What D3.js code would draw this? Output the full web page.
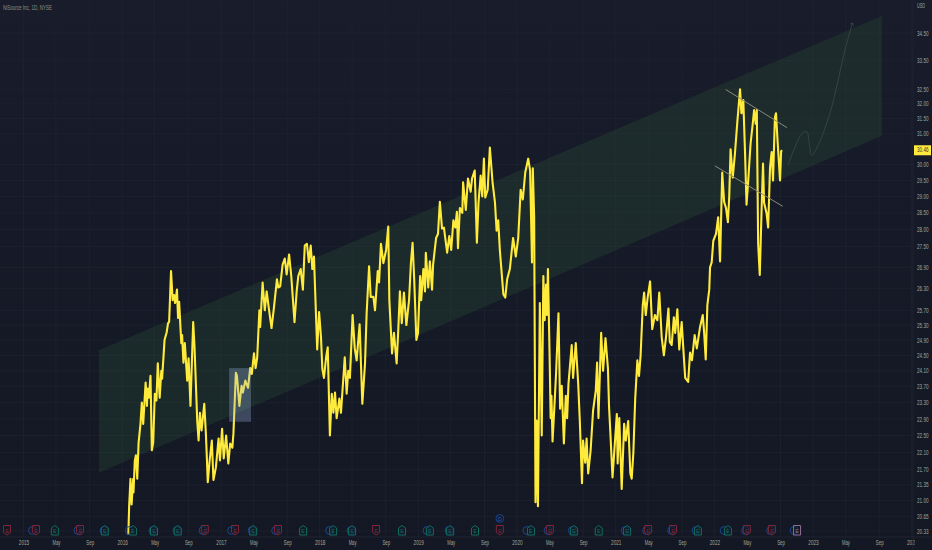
<!DOCTYPE html>
<html><head><meta charset="utf-8">
<script src="https://cdn.jsdelivr.net/npm/d3@7/dist/d3.min.js"></script>
<style>html,body{margin:0;padding:0;background:#131722;overflow:hidden}svg{display:block}text{font-family:"Liberation Sans",Roboto,sans-serif}</style>
</head><body><svg id="c" width="932" height="550"></svg>
<script>
const titleText = "NiSource Inc, 1D, NYSE";
const currencyText = "USD";
const lastPrice = 30.46;
const priceTicks = [34.5,33.5,32.5,32,31.5,31,30,29.5,29,28.5,28,27.5,26.9,26.3,25.7,25.3,24.9,24.5,24.1,23.7,23.3,22.9,22.5,22.1,21.7,21.35,21,20.65,20.33];
const timeTickLabels = ["2015","May","Sep","2016","May","Sep","2017","May","Sep","2018","May","Sep","2019","May","Sep","2020","May","Sep","2021","May","Sep","2022","May","Sep","2023","May","Sep","2024"];
const timeTicks = [2015,2015.33,2015.67,2016,2016.33,2016.67,2017,2017.33,2017.67,2018,2018.33,2018.67,2019,2019.33,2019.67,2020,2020.33,2020.67,2021,2021.33,2021.67,2022,2022.33,2022.67,2023,2023.33,2023.67,2024];

const priceDates = [2016.064,2016.072,2016.086,2016.096,2016.112,2016.116,2016.130,2016.140,2016.153,2016.167,2016.187,2016.201,2016.214,2016.238,2016.251,2016.258,2016.272,2016.289,2016.302,2016.315,2016.332,2016.349,2016.363,2016.380,2016.396,2016.406,2016.431,2016.451,2016.467,2016.477,2016.497,2016.511,2016.525,2016.538,2016.555,2016.568,2016.578,2016.599,2016.609,2016.623,2016.636,2016.660,2016.674,2016.694,2016.720,2016.734,2016.761,2016.775,2016.788,2016.805,2016.832,2016.849,2016.859,2016.869,2016.887,2016.910,2016.927,2016.951,2016.978,2016.991,2017.011,2017.028,2017.052,2017.075,2017.092,2017.116,2017.126,2017.150,2017.163,2017.186,2017.207,2017.221,2017.247,2017.275,2017.295,2017.312,2017.335,2017.352,2017.368,2017.389,2017.396,2017.423,2017.444,2017.464,2017.484,2017.511,2017.538,2017.566,2017.582,2017.599,2017.626,2017.646,2017.667,2017.690,2017.713,2017.744,2017.768,2017.784,2017.809,2017.829,2017.849,2017.870,2017.890,2017.910,2017.926,2017.943,2017.974,2017.994,2018.014,2018.028,2018.045,2018.065,2018.082,2018.105,2018.123,2018.139,2018.156,2018.173,2018.200,2018.217,2018.254,2018.275,2018.291,2018.308,2018.318,2018.335,2018.356,2018.376,2018.406,2018.433,2018.460,2018.477,2018.501,2018.518,2018.544,2018.562,2018.589,2018.602,2018.622,2018.646,2018.673,2018.696,2018.706,2018.733,2018.754,2018.781,2018.797,2018.815,2018.832,2018.855,2018.879,2018.906,2018.926,2018.943,2018.960,2018.980,2018.997,2019.018,2019.031,2019.051,2019.068,2019.078,2019.102,2019.119,2019.139,2019.152,2019.180,2019.200,2019.220,2019.240,2019.261,2019.294,2019.314,2019.335,2019.355,2019.375,2019.392,2019.402,2019.423,2019.446,2019.456,2019.483,2019.504,2019.531,2019.544,2019.572,2019.595,2019.612,2019.632,2019.648,2019.665,2019.679,2019.703,2019.726,2019.754,2019.777,2019.795,2019.811,2019.828,2019.862,2019.882,2019.902,2019.930,2019.963,2019.990,2020.014,2020.038,2020.059,2020.085,2020.116,2020.133,2020.153,2020.163,2020.176,2020.190,2020.200,2020.214,2020.234,2020.251,2020.268,2020.282,2020.295,2020.305,2020.315,2020.332,2020.342,2020.352,2020.362,2020.380,2020.396,2020.423,2020.437,2020.454,2020.477,2020.497,2020.510,2020.524,2020.555,2020.571,2020.598,2020.622,2020.639,2020.659,2020.672,2020.692,2020.707,2020.723,2020.747,2020.773,2020.801,2020.814,2020.828,2020.855,2020.875,2020.899,2020.922,2020.935,2020.949,2020.970,2021.010,2021.020,2021.036,2021.061,2021.084,2021.101,2021.127,2021.148,2021.162,2021.178,2021.196,2021.219,2021.236,2021.253,2021.273,2021.287,2021.304,2021.324,2021.347,2021.371,2021.398,2021.421,2021.441,2021.466,2021.489,2021.509,2021.533,2021.547,2021.567,2021.590,2021.604,2021.624,2021.644,2021.669,2021.685,2021.705,2021.733,2021.753,2021.773,2021.801,2021.821,2021.855,2021.882,2021.895,2021.913,2021.929,2021.949,2021.956,2021.973,2021.989,2022.016,2022.037,2022.057,2022.080,2022.100,2022.118,2022.138,2022.151,2022.165,2022.186,2022.209,2022.232,2022.259,2022.273,2022.293,2022.310,2022.327,2022.344,2022.368,2022.388,2022.404,2022.418,2022.429,2022.445,2022.459,2022.479,2022.492,2022.503,2022.530,2022.544,2022.564,2022.581,2022.595,2022.615,2022.625,2022.642,2022.665,2022.678,2022.688];
const priceCloses = [20.25,20.87,21.49,20.91,21.49,21.18,21.91,22.03,21.49,22.33,22.78,23.30,22.78,23.80,23.22,23.65,23.42,23.97,22.15,22.33,23.52,23.35,24.29,23.42,24.10,23.90,24.90,25.11,25.35,25.38,26.79,25.98,26.12,25.90,26.27,25.49,25.93,24.82,25.03,24.31,24.82,23.85,24.42,23.22,25.38,24.71,22.85,22.38,23.05,22.62,23.27,22.55,21.91,21.41,21.91,22.38,21.46,21.75,22.43,21.91,22.66,21.96,22.50,21.84,22.31,22.21,22.55,24.05,23.97,23.22,23.72,23.55,23.85,23.67,24.17,24.02,24.55,24.17,24.45,25.70,25.25,26.47,25.70,26.22,25.75,25.22,25.78,26.56,26.33,26.36,26.98,27.15,26.70,27.27,26.65,25.38,26.22,26.65,26.85,26.27,27.53,27.58,27.05,27.53,26.85,27.21,24.65,25.65,24.98,24.15,23.92,24.45,24.71,22.50,23.52,23.05,23.55,22.92,23.40,23.05,24.45,23.52,24.10,23.92,24.55,25.57,24.68,24.37,25.32,23.27,24.29,25.62,26.93,26.07,26.07,25.70,26.79,26.47,27.58,27.02,27.40,28.09,25.98,24.55,25.09,24.29,25.16,26.22,25.35,26.19,25.30,25.98,27.04,27.61,26.56,24.90,25.09,26.65,25.98,26.85,26.22,27.32,26.33,27.07,26.27,26.98,27.75,27.87,28.84,28.03,28.06,27.32,27.81,27.40,28.28,28.06,28.53,27.45,28.65,28.50,29.44,28.59,29.56,29.15,29.56,29.81,27.61,28.81,29.65,29.00,30.19,28.97,29.21,30.55,29.44,28.81,27.97,28.28,27.40,26.14,26.05,26.56,26.85,27.75,27.21,27.75,29.21,28.91,29.75,30.19,29.81,27.04,29.88,28.37,20.96,22.86,20.87,25.90,22.50,26.65,25.43,26.41,25.57,26.85,24.55,22.92,23.47,22.36,23.22,24.02,25.62,23.15,23.72,22.31,23.47,22.92,23.77,24.77,23.92,24.82,23.77,22.85,21.39,22.38,21.86,22.43,21.61,22.15,23.10,23.60,24.31,22.92,25.09,24.10,24.95,24.17,23.22,22.57,21.52,23.02,21.84,22.92,21.26,22.78,22.38,22.85,21.61,21.49,22.08,23.40,24.37,23.97,24.50,25.84,26.19,25.57,26.05,26.50,25.19,25.57,25.43,26.19,24.98,24.50,24.98,25.75,24.85,24.77,25.51,25.09,25.73,24.65,25.38,24.68,23.92,23.82,24.57,24.37,25.03,24.68,25.25,25.57,25.11,24.39,25.84,26.27,26.90,27.04,27.67,27.87,28.37,27.07,29.75,28.84,28.65,28.22,29.00,30.49,29.59,30.34,31.40,32.50,31.68,32.13,30.52,28.75,29.59,30.68,31.33,31.79,31.33,31.79,27.58,26.68,28.68,30.03,28.81,28.50,28.06,29.91,30.40,29.50,31.53,31.68,30.75,29.50,30.43,30.46];

const channelDates = [2015.765,2023.699,2023.699,2015.765];
const channelPrices = [24.63,35.13,30.93,21.63];
const boxDates = [2017.082,2017.305];
const boxPrices = [24.17,22.83];
const upperTrendDates = [2022.115,2022.736];
const upperTrendPrices = [32.49,31.20];
const lowerTrendDates = [2022.006,2022.692];
const lowerTrendPrices = [29.96,28.70];
const forecastDates = [2022.749,2022.834,2022.888,2022.936,2022.962,2022.986,2023.053,2023.172,2023.256,2023.324,2023.400];
const forecastPrices = [29.99,30.68,31.00,31.07,30.70,30.30,30.62,31.69,32.81,33.88,34.87];

const earningDates = [2014.833,2015.127,2015.319,2015.572,2015.826,2016.109,2016.322,2016.565,2016.839,2017.143,2017.325,2017.579,2017.832,2018.136,2018.329,2018.572,2018.835,2019.119,2019.322,2019.575,2019.828,2020.142,2020.335,2020.578,2020.831,2021.115,2021.328,2021.581,2021.834,2022.138,2022.330,2022.584,2022.837];
const earningKinds = ["m","m","b","m","b","b","b","b","m","m","b","m","b","b","b","m","b","b","b","b","m","b","m","b","b","b","m","m","b","b","m","m","u"];
const dividendDates = [2015.090,2015.552,2015.816,2016.072,2016.312,2016.555,2016.819,2017.108,2017.315,2017.554,2018.101,2018.319,2019.089,2019.312,2020.102,2020.315,2020.563,2021.095,2021.313,2021.566,2021.814,2022.098,2022.315,2022.569,2022.807];
const specialDividend = [2019.828];

const svg = d3.select("#c");
const W = 932, H = 550, axisX = 913, axisY = 537;
const toDate = t => { const y = Math.floor(t); return new Date(y, 0, 1 + Math.round((t - y) * 365)); };
const x = d3.scaleTime().domain([new Date(2015,0,1), new Date(2023,0,1)]).range([23.5, 813]);
const y = d3.scaleLog().domain([20.33, 34.5]).range([531, 33]);
const X = t => x(toDate(t));

const defs = svg.append("defs");
const g0 = defs.append("linearGradient").attr("id","bg").attr("x1",0).attr("y1",0).attr("x2",0).attr("y2",1);
g0.append("stop").attr("offset",0).attr("stop-color","#181c2b");
g0.append("stop").attr("offset",1).attr("stop-color","#131824");
defs.append("clipPath").attr("id","xclip").append("rect").attr("x",0).attr("y",axisY).attr("width",915).attr("height",H-axisY);

svg.append("rect").attr("width",W).attr("height",H).attr("fill","url(#bg)");

// grid
const gridColor = "#1f2431";
svg.append("g").selectAll("line").data(priceTicks).join("line")
  .attr("x1",0).attr("x2",axisX).attr("y1",d=>y(d)).attr("y2",d=>y(d)).attr("stroke",gridColor).attr("stroke-width",0.7);
svg.append("g").selectAll("line").data(timeTicks).join("line")
  .attr("x1",d=>X(d)).attr("x2",d=>X(d)).attr("y1",0).attr("y2",axisY).attr("stroke",gridColor).attr("stroke-width",0.7);

// channel
svg.append("path").attr("d", d3.line().x(d=>X(d[0])).y(d=>y(d[1])).curve(d3.curveLinearClosed)(d3.zip(channelDates,channelPrices)))
  .attr("fill","#2f5a35").attr("fill-opacity",0.26);

// price line
svg.append("path").attr("d", d3.line().x(d=>X(d[0])).y(d=>y(d[1]))(d3.zip(priceDates,priceCloses)))
  .attr("fill","none").attr("stroke","#ffeb3b").attr("stroke-width",2.1).attr("stroke-linejoin","round");

// highlighted box
svg.append("rect").attr("x",X(boxDates[0])).attr("width",X(boxDates[1])-X(boxDates[0]))
  .attr("y",y(boxPrices[0])).attr("height",y(boxPrices[1])-y(boxPrices[0]))
  .attr("fill","#9fb6e0").attr("fill-opacity",0.3);

// trend lines
[[upperTrendDates,upperTrendPrices],[lowerTrendDates,lowerTrendPrices]].forEach(([a,b])=>{
  svg.append("line").attr("x1",X(a[0])).attr("x2",X(a[1])).attr("y1",y(b[0])).attr("y2",y(b[1]))
    .attr("stroke","#8b8b7a").attr("stroke-width",1);
});

// forecast path
const fp = d3.zip(forecastDates,forecastPrices);
svg.append("path").attr("d", d3.line().x(d=>X(d[0])).y(d=>y(d[1])).curve(d3.curveCatmullRom)(fp))
  .attr("fill","none").attr("stroke","#334a42").attr("stroke-width",0.9);
const tip = fp[fp.length-1];
svg.append("path").attr("d", d3.line()([[X(tip[0])-2.5,y(tip[1])+1.2],[X(tip[0]),y(tip[1])],[X(tip[0])+1.2,y(tip[1])+2.6]]))
  .attr("fill","none").attr("stroke","#334a42").attr("stroke-width",0.9);

// events
const evTop = 525.5, evBot = 535;
const evG = svg.append("g");
evG.selectAll("circle.d").data(dividendDates).join("circle").attr("class","d")
  .attr("cx",d=>X(d)).attr("cy",530.5).attr("r",3.9).attr("fill","none").attr("stroke","#1a4592").attr("stroke-width",1);
evG.selectAll("circle.s").data(specialDividend).join("circle").attr("class","s")
  .attr("cx",d=>X(d)).attr("cy",518.5).attr("r",3.9).attr("fill","none").attr("stroke","#1a4592").attr("stroke-width",1);
evG.selectAll("text.s").data(specialDividend).join("text").attr("class","s")
  .attr("x",d=>X(d)).attr("y",520.5).attr("text-anchor","middle").attr("font-size",5.5).attr("fill","#2a5ab0").text("D");
const kindColor = {m:"#7e2637",b:"#0e6e60",u:"#8d6f96"};
const evs = d3.zip(earningDates,earningKinds);
const shape = k => {
  if (k==="u") return d3.line()([[-3.5,evTop],[3.5,evTop],[3.5,evBot],[-3.5,evBot]])+"Z";
  if (k==="b") return d3.line()([[-3.5,evTop+2.5],[0,evTop],[3.5,evTop+2.5],[3.5,evBot],[-3.5,evBot]])+"Z";
  return d3.line()([[-3.5,evTop],[3.5,evTop],[3.5,evBot-2.5],[0,evBot],[-3.5,evBot-2.5]])+"Z";
};
const eg = evG.selectAll("g.e").data(evs).join("g").attr("class","e").attr("transform",d=>`translate(${X(d[0])},0)`);
eg.append("path").attr("d",d=>shape(d[1])).attr("fill","#141925").attr("fill-opacity",0.55).attr("stroke",d=>kindColor[d[1]]).attr("stroke-width",1);
eg.append("text").attr("y",532.5).attr("text-anchor","middle").attr("font-size",5.5).attr("fill",d=>kindColor[d[1]]).text("E");

// axes
const yAxis = d3.axisRight(y).tickValues(priceTicks).tickSize(0).tickPadding(0).tickFormat(d=>d.toFixed(2));
const ya = svg.append("g").attr("transform",`translate(917,0)`).call(yAxis);
ya.select(".domain").remove();
ya.selectAll("text").attr("font-size",6.5).attr("fill","#a3a697").attr("dy","0.32em")
  .attr("textLength",11.5).attr("lengthAdjust","spacingAndGlyphs");

const xAxis = d3.axisBottom(x).tickValues(timeTicks.map(toDate)).tickSize(0).tickPadding(0)
  .tickFormat((d,i)=>timeTickLabels[i]);
const xa = svg.append("g").attr("clip-path","url(#xclip)").append("g").attr("transform",`translate(0,${axisY+3.5})`).call(xAxis);
xa.select(".domain").remove();
xa.selectAll("text").attr("font-size",6.5).attr("fill","#a3a697")
  .attr("textLength",(d,i)=>timeTickLabels[i].length*2.6).attr("lengthAdjust","spacingAndGlyphs");

svg.append("line").attr("x1",axisX).attr("x2",axisX).attr("y1",0).attr("y2",H).attr("stroke","#232734").attr("stroke-width",0.8);
svg.append("line").attr("x1",0).attr("x2",W).attr("y1",axisY).attr("y2",axisY).attr("stroke","#232734").attr("stroke-width",0.8);

// last price tag
const ty = y(lastPrice);
svg.append("rect").attr("x",914).attr("y",ty-5).attr("width",17).attr("height",10).attr("fill","#ffeb3b");
svg.append("text").attr("x",917).attr("y",ty).attr("dy","0.34em").attr("font-size",6.5).attr("fill","#333")
  .attr("textLength",11.5).attr("lengthAdjust","spacingAndGlyphs").text(lastPrice.toFixed(2));

svg.append("text").attr("x",3).attr("y",10).attr("font-size",6.6).attr("fill","#8f917f")
  .attr("textLength",49).attr("lengthAdjust","spacingAndGlyphs").text(titleText);
svg.append("text").attr("x",917).attr("y",8).attr("font-size",6.5).attr("fill","#a3a697")
  .attr("textLength",8).attr("lengthAdjust","spacingAndGlyphs").text(currencyText);
</script></body></html>
